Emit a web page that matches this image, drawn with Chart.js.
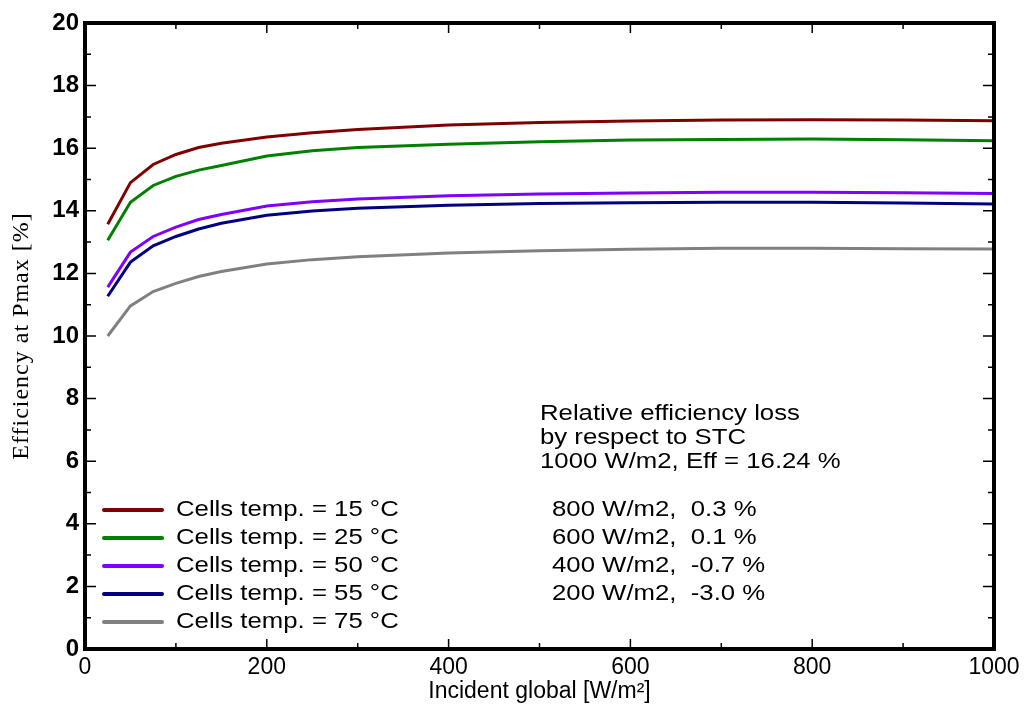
<!DOCTYPE html>
<html>
<head>
<meta charset="utf-8">
<script src="https://cdn.jsdelivr.net/npm/chart.js@4.4.0/dist/chart.umd.min.js"></script>
<style>
  html, body { margin: 0; padding: 0; background: #fff; }
</style>
</head>
<body>
<canvas id="myChart" width="1026" height="713"></canvas>
<script>
// irradiance points [W/m2]
const irradiance = [25, 50, 75, 100, 125, 150, 200, 250, 300, 400, 500, 600, 700, 800, 900, 1000];

// efficiency at Pmax [%] for each cell temperature
const eff15 = [13.57, 14.90, 15.48, 15.80, 16.02, 16.16, 16.36, 16.49, 16.60, 16.74, 16.82, 16.87, 16.90, 16.91, 16.90, 16.88];
const eff25 = [13.06, 14.27, 14.81, 15.10, 15.30, 15.45, 15.75, 15.92, 16.02, 16.13, 16.21, 16.26, 16.28, 16.29, 16.27, 16.24];
const eff50 = [11.56, 12.68, 13.18, 13.48, 13.72, 13.88, 14.15, 14.29, 14.38, 14.48, 14.54, 14.57, 14.59, 14.59, 14.58, 14.55];
const eff55 = [11.27, 12.36, 12.88, 13.18, 13.42, 13.60, 13.86, 13.99, 14.08, 14.18, 14.23, 14.26, 14.27, 14.27, 14.25, 14.22];
const eff75 = [10.00, 10.96, 11.42, 11.68, 11.90, 12.06, 12.30, 12.44, 12.53, 12.65, 12.72, 12.77, 12.80, 12.80, 12.79, 12.78];

const seriesLabels = ['Cells temp. = 15 °C', 'Cells temp. = 25 °C', 'Cells temp. = 50 °C', 'Cells temp. = 55 °C', 'Cells temp. = 75 °C'];
const seriesColors = ['#800000', '#008000', '#8000ff', '#000080', '#808080'];

const yTitle = 'Efficiency at Pmax [%]';
const noteLines = ['Relative efficiency loss', 'by respect to STC', '1000 W/m2, Eff = 16.24 %'];
const lossLines = ['800 W/m2,  0.3 %', '600 W/m2,  0.1 %', '400 W/m2,  -0.7 %', '200 W/m2,  -3.0 %'];

const allSeries = [eff15, eff25, eff50, eff55, eff75];

const sans = 'Arial, "Liberation Sans", sans-serif';

// text in the reference is a bit wider than plain Arial
function wideText(ctx, t, x, y, sx) {
  ctx.save();
  ctx.translate(x, y);
  ctx.scale(sx, 1);
  ctx.fillText(t, 0, 0);
  ctx.restore();
}

// frame, inner ticks, legend, y title and the text block
const framePlugin = {
  id: 'frame',
  afterDraw(chart) {
    const ctx = chart.ctx;
    const a = chart.chartArea;
    const xs = chart.scales.x;
    const ys = chart.scales.y;
    ctx.save();
    ctx.strokeStyle = '#000';

    // inner ticks
    ctx.lineWidth = 1.5;
    for (let v = 0; v <= 1000; v += 100) {
      const px = xs.getPixelForValue(v);
      const len = v % 200 == 0 ? 10 : 6;
      ctx.beginPath();
      ctx.moveTo(px, a.bottom); ctx.lineTo(px, a.bottom - len);
      ctx.moveTo(px, a.top); ctx.lineTo(px, a.top + len);
      ctx.stroke();
    }
    for (let v = 0; v <= 20; v += 1) {
      const py = ys.getPixelForValue(v);
      const len = v % 2 == 0 ? 11 : 6;
      ctx.beginPath();
      ctx.moveTo(a.left, py); ctx.lineTo(a.left + len, py);
      ctx.moveTo(a.right, py); ctx.lineTo(a.right - len, py);
      ctx.stroke();
    }

    // frame
    ctx.lineWidth = 4;
    ctx.strokeRect(a.left, a.top, a.right - a.left, a.bottom - a.top);

    // y title
    ctx.fillStyle = '#000';
    ctx.save();
    ctx.translate(22, (a.top + a.bottom) / 2);
    ctx.rotate(-Math.PI / 2);
    ctx.font = '24px "Times New Roman", "Liberation Serif", serif';
    ctx.letterSpacing = '1px';
    ctx.textAlign = 'center';
    ctx.textBaseline = 'middle';
    ctx.fillText(yTitle, 0, 0);
    ctx.restore();

    // legend
    ctx.font = '22px ' + sans;
    ctx.textBaseline = 'middle';
    chart.data.datasets.forEach((ds, i) => {
      const y = 510 + i * 28;
      ctx.strokeStyle = ds.borderColor;
      ctx.lineWidth = 4;
      ctx.lineCap = 'round';
      ctx.beginPath();
      ctx.moveTo(104, y); ctx.lineTo(162, y);
      ctx.stroke();
      wideText(ctx, ds.label, 176, y, 1.17);
    });

    // note text
    noteLines.forEach((t, i) => wideText(ctx, t, 540, 414 + i * 24, 1.17));
    lossLines.forEach((t, i) => wideText(ctx, t, 552, 510 + i * 28, 1.17));
    ctx.restore();
  }
};

new Chart('myChart', {
  type: 'line',
  data: {
    datasets: allSeries.map((s, i) => ({
      label: seriesLabels[i],
      data: irradiance.map((x, j) => ({ x: x, y: s[j] })),
      borderColor: seriesColors[i],
      borderWidth: 3,
      pointRadius: 0,
      tension: 0,
      fill: false
    }))
  },
  options: {
    responsive: false,
    animation: false,
    devicePixelRatio: 1,
    layout: { padding: { left: 0, right: 32, top: 23, bottom: 0 } },
    plugins: { legend: { display: false }, tooltip: { enabled: false } },
    scales: {
      x: {
        type: 'linear',
        min: 0, max: 1000,
        grid: { display: false, drawTicks: false },
        border: { display: false },
        ticks: {
          stepSize: 200, padding: 5, color: '#000',
          font: { family: sans, size: 23 },
          callback: (v) => String(v)
        },
        title: {
          display: true, text: 'Incident global [W/m²]', color: '#000',
          font: { family: sans, size: 23 },
          padding: { top: 0, bottom: 8 }
        },
        afterFit: (scale) => { scale.height = 64; }
      },
      y: {
        min: 0, max: 20,
        grid: { display: false, drawTicks: false },
        border: { display: false },
        ticks: { stepSize: 2, padding: 6, color: '#000', font: { family: sans, size: 24, weight: 'bold' } },
        afterFit: (scale) => { scale.width = 85; }
      }
    }
  },
  plugins: [framePlugin]
});
</script>
</body>
</html>
